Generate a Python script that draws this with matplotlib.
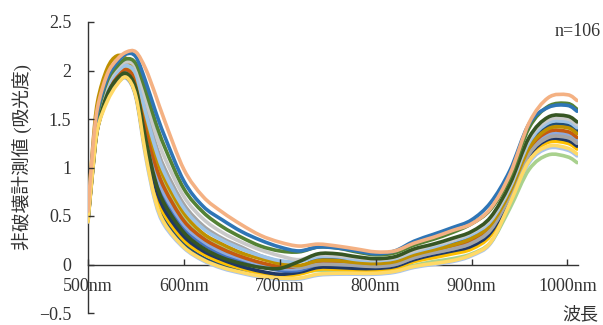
import matplotlib
matplotlib.use("Agg")
import matplotlib.pyplot as plt
from matplotlib.path import Path
from matplotlib.patches import PathPatch

plt.rcParams['font.family'] = ['Liberation Serif', 'Noto Sans CJK JP', 'DejaVu Sans']

# wavelength grid (nm)
wavelength = [500, 505, 510, 520, 530, 540, 550, 560, 570, 580, 600, 620, 640, 660, 680, 700,
              720, 740, 760, 780, 800, 820, 840, 860, 880, 900, 920, 940, 960, 980, 1000, 1010]

# absorbance curves (representative samples of the n=106 set)
curve_colors = ['#A9C4EB', '#A9D18E', '#1F4E79', '#FFC000', '#203864', '#4472C4', '#8FAADC',
                '#C55A11', '#A5A5A5', '#BF9000', '#9DC3E6', '#C9C9C9', '#375623', '#548235',
                '#2E75B6', '#FFD966', '#F4B183']
absorbance = [
    [0.44, 1.00, 1.42, 1.70, 1.86, 1.92, 1.72, 1.12, 0.65, 0.40, 0.17, 0.04, -0.04, -0.09, -0.13, -0.15,
     -0.15, -0.11, -0.10, -0.10, -0.10, -0.08, -0.03, 0.00, 0.03, 0.09, 0.22, 0.62, 1.05, 1.20, 1.18, 1.12],
    [0.48, 1.05, 1.46, 1.80, 1.96, 2.02, 1.91, 1.48, 1.09, 0.83, 0.49, 0.30, 0.19, 0.09, 0.01, -0.04,
     -0.08, -0.06, -0.07, -0.08, -0.08, -0.06, -0.01, 0.03, 0.06, 0.11, 0.23, 0.58, 0.98, 1.13, 1.11, 1.05],
    [0.45, 0.98, 1.40, 1.71, 1.87, 1.93, 1.74, 1.17, 0.71, 0.45, 0.21, 0.07, -0.01, -0.07, -0.10, -0.11,
     -0.04, 0.06, 0.06, 0.04, 0.02, 0.04, 0.12, 0.17, 0.22, 0.29, 0.44, 0.78, 1.24, 1.43, 1.44, 1.38],
    [0.45, 0.99, 1.41, 1.73, 1.88, 1.95, 1.77, 1.21, 0.76, 0.51, 0.25, 0.11, 0.02, -0.04, -0.09, -0.12,
     -0.10, -0.05, -0.05, -0.06, -0.06, -0.04, 0.03, 0.07, 0.11, 0.16, 0.30, 0.66, 1.10, 1.26, 1.25, 1.19],
    [0.46, 1.00, 1.41, 1.74, 1.90, 1.96, 1.79, 1.26, 0.82, 0.56, 0.29, 0.14, 0.05, -0.02, -0.07, -0.10,
     -0.08, -0.03, -0.03, -0.04, -0.04, -0.02, 0.05, 0.10, 0.14, 0.19, 0.33, 0.69, 1.12, 1.29, 1.28, 1.22],
    [0.47, 1.02, 1.43, 1.76, 1.92, 1.99, 1.84, 1.35, 0.93, 0.67, 0.37, 0.21, 0.10, 0.03, -0.02, -0.06,
     -0.06, 0.00, 0.00, -0.01, -0.02, 0.00, 0.07, 0.12, 0.16, 0.22, 0.36, 0.71, 1.14, 1.31, 1.31, 1.25],
    [0.47, 1.03, 1.44, 1.78, 1.93, 2.00, 1.86, 1.39, 0.98, 0.72, 0.41, 0.24, 0.13, 0.06, 0.00, -0.04,
     -0.04, 0.02, 0.02, 0.00, -0.01, 0.01, 0.08, 0.13, 0.18, 0.24, 0.38, 0.72, 1.17, 1.34, 1.34, 1.28],
    [0.48, 1.04, 1.45, 1.79, 1.94, 2.01, 1.88, 1.44, 1.04, 0.78, 0.45, 0.27, 0.16, 0.08, 0.02, -0.02,
     -0.02, 0.03, 0.03, 0.01, 0.00, 0.02, 0.10, 0.14, 0.19, 0.25, 0.40, 0.74, 1.19, 1.37, 1.37, 1.31],
    [0.50, 1.09, 1.50, 1.84, 1.99, 2.06, 1.98, 1.62, 1.26, 0.99, 0.62, 0.40, 0.27, 0.18, 0.09, 0.03,
     -0.03, 0.00, 0.00, -0.01, -0.02, 0.00, 0.07, 0.12, 0.16, 0.22, 0.36, 0.71, 1.14, 1.31, 1.31, 1.25],
    [0.55, 1.22, 1.68, 2.02, 2.15, 2.12, 1.96, 1.55, 1.15, 0.88, 0.53, 0.32, 0.21, 0.12, 0.06, 0.01,
     -0.01, 0.04, 0.04, 0.02, 0.01, 0.03, 0.10, 0.15, 0.20, 0.27, 0.41, 0.75, 1.20, 1.40, 1.41, 1.35],
    [0.50, 1.08, 1.49, 1.83, 1.98, 2.05, 1.96, 1.57, 1.21, 0.94, 0.58, 0.37, 0.25, 0.16, 0.09, 0.04,
     0.03, 0.08, 0.08, 0.05, 0.04, 0.06, 0.13, 0.18, 0.24, 0.31, 0.45, 0.79, 1.26, 1.46, 1.47, 1.41],
    [0.51, 1.11, 1.53, 1.86, 2.02, 2.09, 2.03, 1.71, 1.37, 1.10, 0.70, 0.47, 0.33, 0.23, 0.15, 0.09,
     0.05, 0.10, 0.09, 0.07, 0.05, 0.07, 0.14, 0.20, 0.25, 0.33, 0.47, 0.81, 1.29, 1.49, 1.50, 1.44],
    [0.46, 1.00, 1.41, 1.75, 1.91, 1.97, 1.81, 1.30, 0.87, 0.62, 0.33, 0.17, 0.07, 0.01, -0.03, -0.04,
     0.03, 0.11, 0.11, 0.08, 0.06, 0.08, 0.16, 0.21, 0.27, 0.34, 0.49, 0.83, 1.31, 1.52, 1.53, 1.47],
    [0.52, 1.14, 1.55, 1.89, 2.04, 2.12, 2.07, 1.80, 1.48, 1.21, 0.78, 0.54, 0.39, 0.28, 0.19, 0.14,
     0.13, 0.18, 0.17, 0.13, 0.10, 0.12, 0.20, 0.26, 0.33, 0.42, 0.57, 0.90, 1.41, 1.63, 1.66, 1.60],
    [0.53, 1.16, 1.58, 1.92, 2.08, 2.17, 2.14, 1.89, 1.59, 1.32, 0.86, 0.60, 0.46, 0.34, 0.25, 0.18,
     0.14, 0.18, 0.17, 0.14, 0.11, 0.14, 0.24, 0.31, 0.38, 0.46, 0.64, 0.97, 1.45, 1.62, 1.64, 1.58],
    [0.44, 0.98, 1.40, 1.68, 1.85, 1.93, 1.73, 1.14, 0.67, 0.42, 0.18, 0.05, -0.03, -0.08, -0.12, -0.14,
     -0.14, -0.10, -0.09, -0.09, -0.09, -0.07, -0.02, 0.01, 0.04, 0.10, 0.23, 0.63, 1.07, 1.22, 1.20, 1.14],
    [0.55, 1.20, 1.62, 1.96, 2.11, 2.19, 2.19, 2.02, 1.76, 1.48, 0.98, 0.70, 0.54, 0.41, 0.30, 0.23,
     0.19, 0.21, 0.19, 0.16, 0.13, 0.14, 0.22, 0.28, 0.35, 0.42, 0.58, 0.93, 1.46, 1.72, 1.75, 1.69],
]

x_ticks = [500, 600, 700, 800, 900, 1000]
x_tick_labels = ['500nm', '600nm', '700nm', '800nm', '900nm', '1000nm']
y_ticks = [-0.5, 0, 0.5, 1, 1.5, 2, 2.5]
y_tick_labels = ['\u22120.5', '0', '0.5', '1', '1.5', '2', '2.5']


def smooth_path(xs, ys):
    # spreadsheet-style "smoothed line": bezier segments through every data point
    n = len(xs)
    verts = [(xs[0], ys[0])]
    codes = [Path.MOVETO]
    for i in range(n - 1):
        p0 = max(i - 1, 0)
        p3 = min(i + 2, n - 1)
        c1 = (xs[i] + (xs[i + 1] - xs[p0]) / 6, ys[i] + (ys[i + 1] - ys[p0]) / 6)
        c2 = (xs[i + 1] - (xs[p3] - xs[i]) / 6, ys[i + 1] - (ys[p3] - ys[i]) / 6)
        verts += [c1, c2, (xs[i + 1], ys[i + 1])]
        codes += [Path.CURVE4] * 3
    return Path(verts, codes)


fig = plt.figure(figsize=(6.03, 3.25), dpi=100)
ax = fig.add_axes([88 / 603, 1 - 313 / 325, (578 - 88) / 603, (313 - 22) / 325])

for vals, c in zip(absorbance, curve_colors):
    ax.add_patch(PathPatch(smooth_path(wavelength, vals), fill=False, edgecolor=c, lw=2.6,
                           capstyle='round', joinstyle='round'))

ax.set_xlim(500, 1011)
ax.set_ylim(-0.5, 2.5)
ax.spines['top'].set_visible(False)
ax.spines['right'].set_visible(False)
ax.spines['bottom'].set_position(('data', 0))
for s in ('left', 'bottom'):
    ax.spines[s].set_color('#333333')
    ax.spines[s].set_linewidth(1.0)
    ax.spines[s].set_zorder(0.5)

ax.set_xticks(x_ticks)
ax.set_xticklabels(x_tick_labels)
ax.set_yticks(y_ticks)
ax.set_yticklabels(y_tick_labels)
ax.tick_params(axis='both', direction='in', length=4, width=1, color='#333333',
               labelsize=13, labelcolor='#333333')
ax.tick_params(axis='x', pad=10)
ax.tick_params(axis='y', pad=12)

fig.text(22 / 603, 1 - 157 / 325, '非破壊計測値 (吸光度)', rotation=90, ha='center', va='center',
         fontsize=13.5, color='#333333')
fig.text(580 / 603, 1 - 315 / 325, '波長', ha='center', va='center', fontsize=13, color='#333333')
fig.text(601 / 603, 1 - 31 / 325, 'n=106', ha='right', va='center', fontsize=13, color='#333333')

fig.savefig('out.png', dpi=100)
